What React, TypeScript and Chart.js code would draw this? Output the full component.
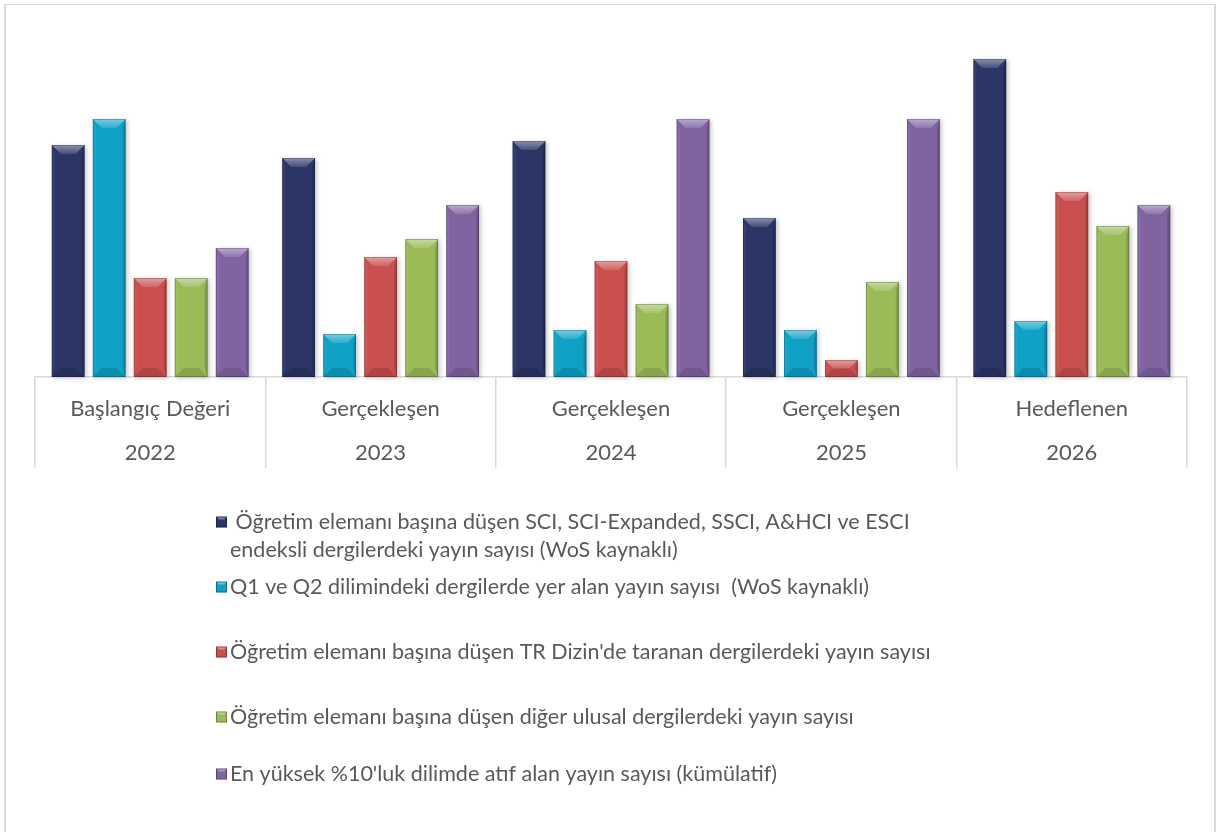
import React, { useEffect, useRef } from "react";
import { Chart, registerables } from "chart.js";

Chart.register(...registerables);

// ---------- data ----------
const stages = ["Başlangıç Değeri", "Gerçekleşen", "Gerçekleşen", "Gerçekleşen", "Hedeflenen"];
const years = ["2022", "2023", "2024", "2025", "2026"];

const seriesLabels = [
  " Öğretim elemanı başına düşen SCI, SCI-Expanded, SSCI, A&HCI ve ESCI endeksli dergilerdeki yayın sayısı (WoS kaynaklı)",
  "Q1 ve Q2 dilimindeki dergilerde yer alan yayın sayısı  (WoS kaynaklı)",
  "Öğretim elemanı başına düşen TR Dizin'de taranan dergilerdeki yayın sayısı",
  "Öğretim elemanı başına düşen diğer ulusal dergilerdeki yayın sayısı",
  "En yüksek %10'luk dilimde atıf alan yayın sayısı (kümülatif)",
];

const wosPublications = [2.32, 2.19, 2.36, 1.59, 3.18];
const q1q2Publications = [2.58, 0.43, 0.47, 0.47, 0.56];
const trDizinPublications = [0.99, 1.2, 1.16, 0.17, 1.85];
const nationalPublications = [0.99, 1.38, 0.73, 0.95, 1.51];
const top10Cited = [1.29, 1.72, 2.58, 2.58, 1.72];

const seriesValues = [
  wosPublications,
  q1q2Publications,
  trDizinPublications,
  nationalPublications,
  top10Cited,
];

// ---------- styles ----------
const COLORS = ["#2b3566", "#0fa1c6", "#c9504e", "#9bbb59", "#8064a2"];
const FONT = "Lato, 'Open Sans', sans-serif";
const TEXT_COLOR = "#595959";
const GRID_COLOR = "#d9d9d9";
const W = 1218;
const H = 832;
const BASELINE_Y = 377;
const LEGEND_MARKER_X = 216;
const LEGEND_TEXT_X = 230;
const LEGEND_Y = [522, 587, 652, 717, 774];
const LEGEND_LINE_H = 28;
const LEGEND_MAX_W = 750;
const LEGEND_FONT_SIZE = 21.5;

function wrapText(ctx: CanvasRenderingContext2D, text: string, maxW: number): string[] {
  const words = text.split(" ");
  const lines: string[] = [];
  let line: string | null = null;
  for (const w of words) {
    const test: string = line === null ? w : line + " " + w;
    if (line !== null && line.trim() !== "" && ctx.measureText(test).width > maxW) {
      lines.push(line);
      line = w;
    } else {
      line = test;
    }
  }
  if (line !== null) lines.push(line);
  return lines;
}

const shadowPlugin = {
  id: "barShadow",
  beforeDatasetsDraw(chart: any) {
    const ctx: CanvasRenderingContext2D = chart.ctx;
    chart.data.datasets.forEach((_: any, di: number) => {
      const meta = chart.getDatasetMeta(di);
      meta.data.forEach((bar: any) => {
        const { x, y, base, width } = bar.getProps(["x", "y", "base", "width"], true);
        ctx.save();
        ctx.fillStyle = "rgba(0,0,0,0.22)";
        ctx.filter = "blur(2px)";
        ctx.fillRect(x - width / 2 + 2, y + 1, width, base - y);
        ctx.restore();
      });
    });
  },
};

const bevelPlugin = {
  id: "barBevel",
  afterDatasetsDraw(chart: any) {
    const ctx: CanvasRenderingContext2D = chart.ctx;
    chart.data.datasets.forEach((_: any, di: number) => {
      const meta = chart.getDatasetMeta(di);
      meta.data.forEach((bar: any) => {
        const { x, y, base, width } = bar.getProps(["x", "y", "base", "width"], true);
        const l = x - width / 2;
        const r = x + width / 2;
        const t = Math.min(y, base);
        const b = Math.max(y, base);
        const h = b - t;
        const s = Math.min(9, h / 2, width / 2);
        ctx.save();
        // top facet
        const g = ctx.createLinearGradient(0, t, 0, t + s);
        g.addColorStop(0, "rgba(255,255,255,0.45)");
        g.addColorStop(1, "rgba(255,255,255,0.12)");
        ctx.fillStyle = g;
        ctx.beginPath();
        ctx.moveTo(l, t);
        ctx.lineTo(r, t);
        ctx.lineTo(r - s, t + s);
        ctx.lineTo(l + s, t + s);
        ctx.closePath();
        ctx.fill();
        // left facet
        ctx.fillStyle = "rgba(255,255,255,0.06)";
        ctx.beginPath();
        ctx.moveTo(l, t);
        ctx.lineTo(l + 3, t + s);
        ctx.lineTo(l + 3, b - s);
        ctx.lineTo(l, b);
        ctx.closePath();
        ctx.fill();
        // right facet
        ctx.fillStyle = "rgba(0,0,0,0.14)";
        ctx.beginPath();
        ctx.moveTo(r, t);
        ctx.lineTo(r - 3, t + s);
        ctx.lineTo(r - 3, b - s);
        ctx.lineTo(r, b);
        ctx.closePath();
        ctx.fill();
        // bottom facet
        ctx.fillStyle = "rgba(0,0,0,0.12)";
        ctx.beginPath();
        ctx.moveTo(l, b);
        ctx.lineTo(r, b);
        ctx.lineTo(r - s, b - s);
        ctx.lineTo(l + s, b - s);
        ctx.closePath();
        ctx.fill();
        // outline
        ctx.strokeStyle = "rgba(0,0,0,0.22)";
        ctx.lineWidth = 1;
        ctx.strokeRect(l + 0.5, t + 0.5, width - 1, h - 1);
        ctx.restore();
      });
    });
  },
};

const legendPlugin = {
  id: "customLegend",
  afterDraw(chart: any) {
    const ctx: CanvasRenderingContext2D = chart.ctx;
    ctx.save();
    ctx.font = `${LEGEND_FONT_SIZE}px ${FONT}`;
    ctx.textBaseline = "middle";
    ctx.textAlign = "left";
    chart.data.datasets.forEach((ds: any, i: number) => {
      const y0 = LEGEND_Y[i];
      const color = ds.backgroundColor as string;
      // marker
      const m = 11;
      const mx = LEGEND_MARKER_X;
      const my = y0 - m / 2;
      ctx.fillStyle = color;
      ctx.fillRect(mx, my, m, m);
      ctx.fillStyle = "rgba(255,255,255,0.35)";
      ctx.beginPath();
      ctx.moveTo(mx, my);
      ctx.lineTo(mx + m, my);
      ctx.lineTo(mx + m - 3, my + 3);
      ctx.lineTo(mx + 3, my + 3);
      ctx.closePath();
      ctx.fill();
      ctx.strokeStyle = "rgba(0,0,0,0.3)";
      ctx.lineWidth = 1;
      ctx.strokeRect(mx + 0.5, my + 0.5, m - 1, m - 1);
      // text
      ctx.fillStyle = TEXT_COLOR;
      const lines = wrapText(ctx, ds.label, LEGEND_MAX_W);
      lines.forEach((ln, k) => {
        ctx.fillText(ln, LEGEND_TEXT_X, y0 + k * LEGEND_LINE_H);
      });
    });
    ctx.restore();
  },
};

export default function App() {
  const canvasRef = useRef<HTMLCanvasElement | null>(null);

  useEffect(() => {
    document.body.style.margin = "0";
    document.body.style.overflow = "hidden";
    const canvas = canvasRef.current;
    if (!canvas) return;
    const chart = new Chart(canvas, {
      type: "bar",
      data: {
        labels: years.map((y, i) => [stages[i], y]),
        datasets: seriesLabels.map((label, i) => ({
          label,
          data: seriesValues[i],
          backgroundColor: COLORS[i],
          borderWidth: 0,
          categoryPercentage: 0.89,
          barPercentage: 0.8,
        })),
      },
      options: {
        responsive: false,
        animation: false,
        devicePixelRatio: 1,
        layout: { padding: { left: 35, right: 31, top: 40, bottom: 0 } },
        plugins: {
          legend: { display: false },
          tooltip: { enabled: false },
          title: { display: false },
        },
        scales: {
          x: {
            grid: {
              offset: true,
              drawOnChartArea: false,
              drawTicks: true,
              tickLength: 91,
              color: GRID_COLOR,
              lineWidth: 1.5,
            },
            border: { display: true, color: GRID_COLOR, width: 1.5 },
            ticks: {
              color: TEXT_COLOR,
              font: { family: FONT, size: 22, lineHeight: 2 },
              padding: -81,
              maxRotation: 0,
              autoSkip: false,
            },
            afterFit: (s: any) => {
              s.height = H - BASELINE_Y;
            },
          },
          y: { display: false, min: 0, max: 3.37 },
        },
      },
      plugins: [shadowPlugin, bevelPlugin, legendPlugin],
    });
    return () => chart.destroy();
  }, []);

  return (
    <div style={{ position: "absolute", left: 0, top: 0, width: W, height: H, background: "#fff", overflow: "hidden" }}>
      <canvas ref={canvasRef} width={W} height={H} style={{ position: "absolute", left: 0, top: 0, width: W, height: H }} />
      <div
        style={{
          position: "absolute",
          left: 4,
          top: 4,
          width: 1212,
          height: H - 4,
          boxSizing: "border-box",
          borderLeft: `2px solid ${GRID_COLOR}`,
          borderRight: `2px solid ${GRID_COLOR}`,
          borderTop: `1px solid ${GRID_COLOR}`,
          pointerEvents: "none",
        }}
      />
    </div>
  );
}
